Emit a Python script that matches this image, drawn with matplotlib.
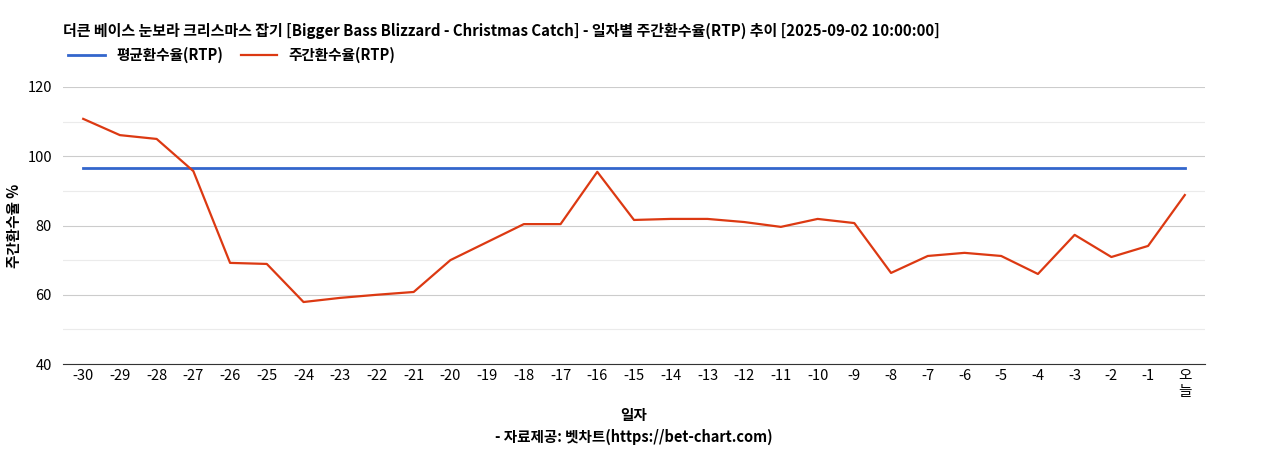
import matplotlib

matplotlib.use("Agg")
import matplotlib.pyplot as plt

plt.rcParams["font.family"] = ["Noto Sans CJK KR", "DejaVu Sans"]

days = [str(d) for d in range(-30, 0)] + ["오\n늘"]
weekly_rtp = [110.8, 106.1, 105.0, 95.7, 69.2, 68.9, 57.9, 59.1, 60.0, 60.8,
              70.0, 75.2, 80.4, 80.4, 95.5, 81.6, 81.9, 81.9, 81.0, 79.6,
              81.9, 80.7, 66.3, 71.2, 72.1, 71.2, 66.0, 77.3, 70.9, 74.1, 88.8]
avg_rtp = 96.7

fig = plt.figure(figsize=(12.68, 4.5), dpi=100)
ax = fig.add_axes([63 / 1268, 86 / 450, (1205 - 63) / 1268, 277 / 450])
x = list(range(len(days)))
ax.plot(x, [avg_rtp] * len(x), color="#3366cc", linewidth=2, label="평균환수율(RTP)")
ax.plot(x, weekly_rtp, color="#dc3912", linewidth=1.6, label="주간환수율(RTP)")

ax.set_xlim(-0.55, len(x) - 0.45)
ax.set_ylim(40, 120)
ax.set_yticks(range(40, 121, 20))
ax.set_yticks(range(50, 120, 20), minor=True)
ax.grid(axis="y", which="major", color="#cccccc", linewidth=0.8)
ax.grid(axis="y", which="minor", color="#ebebeb", linewidth=0.8)
ax.set_xticks(x)
ax.set_xticklabels(days, fontsize=10.5)
ax.tick_params(axis="both", which="both", length=0, labelsize=10.5)
ax.tick_params(axis="y", pad=8)
for s in ["top", "right", "left"]:
    ax.spines[s].set_visible(False)
ax.spines["bottom"].set_color("#333333")
ax.set_axisbelow(True)

ax.set_ylabel("주간환수율 %", fontsize=10.5, fontweight="bold")
ax.set_xlabel("일자\n- 자료제공: 벳차트(https://bet-chart.com)", fontsize=10.5, fontweight="bold", labelpad=6, linespacing=1.4)

fig.text(63 / 1268, 1 - 31 / 450, "더큰 베이스 눈보라 크리스마스 잡기 [Bigger Bass Blizzard - Christmas Catch] - 일자별 주간환수율(RTP) 추이 [2025-09-02 10:00:00]",
         fontsize=10.8, fontweight="bold", va="center")
fig.legend(loc="center left", bbox_to_anchor=(55 / 1268, 1 - 55 / 450), ncol=2, frameon=False,
           prop={"weight": "bold", "size": 10.5}, handlelength=2.5, columnspacing=1.2)

fig.savefig("out.png", dpi=100)
